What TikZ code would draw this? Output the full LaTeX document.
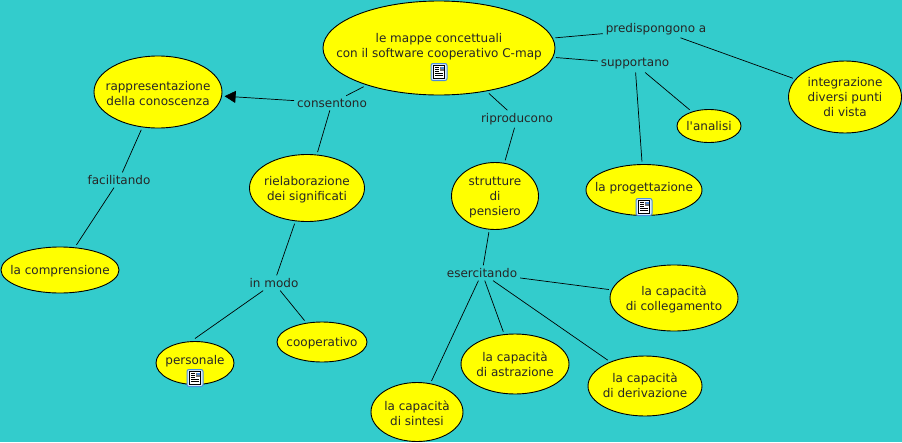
\documentclass[tikz,border=0pt]{standalone}
\usepackage{fontspec}
\setmainfont{DejaVu Sans}
\usetikzlibrary{shapes.geometric,arrows.meta}
\definecolor{bgteal}{HTML}{33CCCC}
\definecolor{conceptyellow}{HTML}{FFFF00}
\definecolor{iconblue}{HTML}{4C8CDC}
\definecolor{iconpale}{HTML}{DCECFA}
\newcommand{\ctxt}[2][0pt]{\makebox[0pt][c]{\raisebox{\dimexpr-4pt+#1\relax}[0pt][0pt]{\begin{tabular}[c]{@{}c@{}}#2\end{tabular}}}}
\tikzset{
  x=1pt,y=-1pt,
  concept/.style={ellipse,draw=black,line width=0.9pt,fill=conceptyellow,inner sep=0pt,outer sep=3pt,font=\fontsize{12}{15}\selectfont,text=black!85},
  linklabel/.style={inner sep=1pt,outer sep=2pt,font=\fontsize{12}{15}\selectfont,text=black!85},
  link/.style={draw=black,line width=0.7pt},
  arrowlink/.style={link,-{Triangle[length=11pt,width=12pt]}},
  docicon/.pic={
    \draw[iconblue,fill=iconpale,line width=1pt,rounded corners=2pt] (-8,-8.5) rectangle (8,8.5);
    \draw[black,fill=white,line width=0.7pt] (-5.5,-6.5) rectangle (5.5,6.5);
    \fill[black!55] (0.5,-5.5) rectangle (4.5,-1);
    \fill[iconblue] (1.5,-5.5) rectangle (4.5,-3.5);
    \draw[black,line width=0.6pt] (-4,-4.5) -- (-0.5,-4.5) (-4,-2.5) -- (-0.5,-2.5) (-4,-0.5) -- (-0.5,-0.5) (-4,1.5) -- (4,1.5) (-4,3.5) -- (4,3.5);
  }
}
\begin{document}
\begin{tikzpicture}
\useasboundingbox (0,0) rectangle (902,442);
\fill[bgteal] (0,0) rectangle (902,442);
% concepts
\node[concept,minimum width=232pt,minimum height=94pt] (main) at (439,48) {\ctxt[2pt]{le mappe concettuali\\con il software cooperativo C-map}};
\node[concept,minimum width=128pt,minimum height=72pt] (rappr) at (158,92) {\ctxt[-2pt]{rappresentazione\\della conoscenza}};
\node[concept,minimum width=113pt,minimum height=72pt] (integr) at (845,97) {\ctxt{integrazione\\diversi punti\\di vista}};
\node[concept,minimum width=118pt,minimum height=46pt] (compr) at (60,270) {\ctxt{la comprensione}};
\node[concept,minimum width=115pt,minimum height=67pt] (riel) at (307,188) {\ctxt[-1pt]{rielaborazione\\dei significati}};
\node[concept,minimum width=87pt,minimum height=67pt] (strutt) at (495,196) {\ctxt{strutture\\di\\pensiero}};
\node[concept,minimum width=116pt,minimum height=51pt] (prog) at (644,190) {\ctxt[2.5pt]{la progettazione}};
\node[concept,minimum width=64pt,minimum height=33pt] (analisi) at (709,126) {\ctxt{l\textquotesingle analisi}};
\node[concept,minimum width=128pt,minimum height=66pt] (coll) at (674,298) {\ctxt[-1pt]{la capacità\\di collegamento}};
\node[concept,minimum width=108pt,minimum height=60pt] (astr) at (515,364) {\ctxt[-1pt]{la capacità\\di astrazione}};
\node[concept,minimum width=114pt,minimum height=60pt] (deriv) at (645,386) {\ctxt{la capacità\\di derivazione}};
\node[concept,minimum width=92pt,minimum height=59pt] (sint) at (417,412) {\ctxt[-2pt]{la capacità\\di sintesi}};
\node[concept,minimum width=78pt,minimum height=43pt] (pers) at (195,363) {\ctxt[3pt]{personale}};
\node[concept,minimum width=90pt,minimum height=40pt] (coop) at (322,342) {\ctxt{cooperativo}};
% link labels
\node[linklabel] (pred) at (656,29) {predispongono a};
\node[linklabel] (supp) at (635,64) {supportano};
\node[linklabel] (cons) at (332,103) {consentono};
\node[linklabel] (ripr) at (517,119) {riproducono};
\node[linklabel] (fac) at (119,180) {facilitando};
\node[linklabel] (inmodo) at (274,283) {in modo};
\node[linklabel] (eserc) at (482,273) {esercitando};
% connectors
\draw[link] (main) -- (pred);
\draw[link] (pred) -- (integr);
\draw[link] (main) -- (supp);
\draw[link] (supp) -- (prog);
\draw[link] (supp) -- (analisi);
\draw[link] (main) -- (cons);
\draw[arrowlink] (cons) -- (rappr);
\draw[link] (cons) -- (riel);
\draw[link] (main) -- (ripr);
\draw[link] (ripr) -- (strutt);
\draw[link] (rappr) -- (fac);
\draw[link] (fac) -- (compr);
\draw[link] (riel) -- (inmodo);
\draw[link] (inmodo) -- (pers.north);
\draw[link] (inmodo) -- (coop);
\draw[link] (strutt) -- (eserc);
\draw[link] (eserc) -- (coll);
\draw[link] (eserc) -- (astr);
\draw[link] (eserc) -- (deriv);
\draw[link] (eserc) -- (sint);
% icons
\pic at (439,72) {docicon};
\pic at (644,207) {docicon};
\pic at (195,378) {docicon};
\end{tikzpicture}
\end{document}
